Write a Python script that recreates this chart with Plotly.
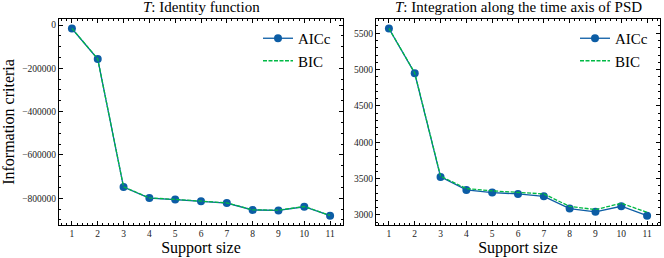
import plotly.graph_objects as go

support = [1, 2, 3, 4, 5, 6, 7, 8, 9, 10, 11]

left_aicc = [-16000, -157000, -748000, -799000, -806000, -814000, -822000, -854000, -856000, -839000, -880000]
left_bic = [-15500, -156500, -747000, -798000, -805000, -813000, -821000, -853000, -855000, -838000, -879000]

right_aicc = [5565, 4949, 3523, 3344, 3307, 3289, 3256, 3087, 3042, 3119, 2990]
right_bic = [5567, 4953, 3533, 3362, 3331, 3311, 3289, 3117, 3073, 3160, 3036]

titles = ["<i>T</i>: Identity function", "<i>T</i>: Integration along the time axis of PSD"]
x_title = "Support size"
y_title = "Information criteria"

BLUE = "#0C5DA5"
GREEN = "#00B945"
FONT = "Liberation Serif"

W, H = 664, 258
top_px, bot_px = 19, 225
panels = [(59, 343), (376, 660)]


def yrange(a, b):
    lo = min(min(a), min(b))
    hi = max(max(a), max(b))
    m = 0.05 * (hi - lo)
    return [lo - m, hi + m]


fig = go.Figure()

datasets = [(left_aicc, left_bic), (right_aicc, right_bic)]
ydticks = [200000, 500]
yminor = [50000, 100]

for i, (aicc, bic) in enumerate(datasets):
    xa = "x" if i == 0 else "x2"
    ya = "y" if i == 0 else "y2"
    leg = "legend" if i == 0 else "legend2"
    fig.add_trace(go.Scatter(x=support, y=aicc, mode="lines+markers", name="AICc",
                             line=dict(color=BLUE, width=1.3),
                             marker=dict(color=BLUE, size=8),
                             xaxis=xa, yaxis=ya, legend=leg))
    fig.add_trace(go.Scatter(x=support, y=bic, mode="lines", name="BIC",
                             line=dict(color=GREEN, width=1.3, dash="4px,1.5px"),
                             xaxis=xa, yaxis=ya, legend=leg))

ydom = [1 - bot_px / H, 1 - top_px / H]

axis_common = dict(
    showline=True, linecolor="black", linewidth=1, mirror="allticks",
    ticks="inside", ticklen=4, tickwidth=0.8, tickcolor="black",
    showgrid=False, zeroline=False,
    tickfont=dict(family=FONT, size=9.5, color="#222"),
)

layout = dict(
    width=W, height=H,
    margin=dict(l=0, r=0, t=0, b=0),
    paper_bgcolor="white", plot_bgcolor="white",
    font=dict(family=FONT, color="black"),
    showlegend=True,
)

for i, (x0, x1) in enumerate(panels):
    sx = "" if i == 0 else "2"
    rng = yrange(*datasets[i])
    layout["xaxis" + sx] = dict(
        axis_common, domain=[x0 / W, x1 / W], range=[0.5, 11.5],
        tick0=1, dtick=1, anchor="y" + sx,
        minor=dict(ticks="inside", ticklen=2, tickwidth=0.6, tickcolor="black", dtick=0.2, tick0=0),
        title=dict(text=x_title, font=dict(family=FONT, size=16), standoff=2),
    )
    ydict = dict(
        axis_common, domain=ydom, range=rng, anchor="x" + sx,
        tick0=0, dtick=ydticks[i], tickformat="d",
        minor=dict(ticks="inside", ticklen=2, tickwidth=0.6, tickcolor="black", dtick=yminor[i], tick0=0),
    )
    if i == 0:
        ydict["title"] = dict(text=y_title, font=dict(family=FONT, size=16), standoff=4)
    layout["yaxis" + sx] = ydict
    leg = "legend" if i == 0 else "legend2"
    layout[leg] = dict(
        x=(x1 - 7) / W, xanchor="right", y=1 - (top_px + 3) / H, yanchor="top",
        bgcolor="rgba(0,0,0,0)", borderwidth=0,
        font=dict(family=FONT, size=15, color="black"),
    )

fig.update_layout(**layout)

annotations = []
for i, (x0, x1) in enumerate(panels):
    annotations.append(dict(
        text=titles[i], x=(x0 + x1) / 2 / W, y=1 - (top_px - 2) / H,
        xref="paper", yref="paper", xanchor="center", yanchor="bottom",
        showarrow=False, font=dict(family=FONT, size=15, color="black"),
    ))
fig.update_layout(annotations=annotations)

fig.write_html("out.html", config={"displayModeBar": False},
               post_script="document.body.style.margin='0';document.body.style.padding='0';")
